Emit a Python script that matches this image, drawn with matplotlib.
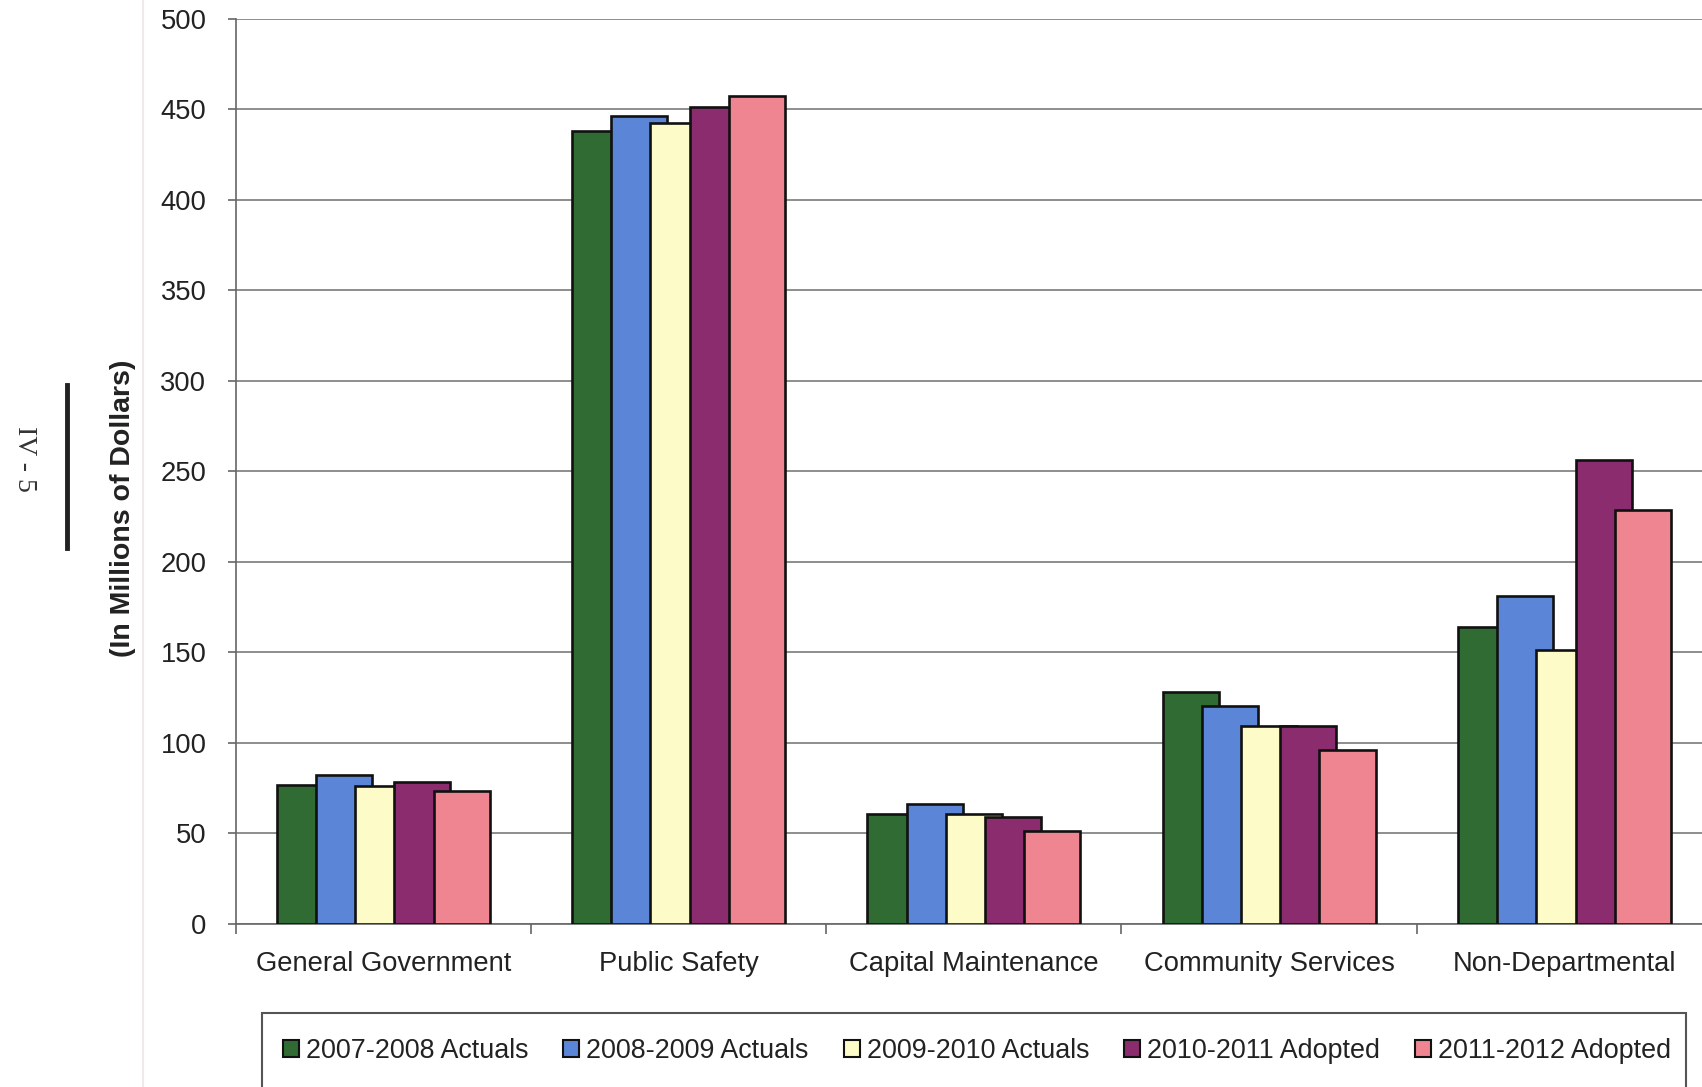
import numpy as np
import matplotlib
matplotlib.use("Agg")
import matplotlib.pyplot as plt
from matplotlib.patches import Patch, Rectangle

plt.rcParams['font.family'] = ['Liberation Sans', 'DejaVu Sans']

categories = ['General Government', 'Public Safety', 'Capital Maintenance',
              'Community Services', 'Non-Departmental']
series = ['2007-2008 Actuals', '2008-2009 Actuals', '2009-2010 Actuals',
          '2010-2011 Adopted', '2011-2012 Adopted']
fy0708 = [76.5, 438, 60.5, 128, 164]
fy0809 = [82, 446, 66, 120.5, 181]
fy0910 = [76, 442.5, 60.5, 109.5, 151]
fy1011 = [78.5, 451, 59, 109.5, 256]
fy1112 = [73.5, 457, 51, 96, 228.5]
yticks = [0, 50, 100, 150, 200, 250, 300, 350, 400, 450, 500]

values = [fy0708, fy0809, fy0910, fy1011, fy1112]
colors = ['#2f6b32', '#5b86d8', '#fdfcc8', '#8a2c6e', '#f08592']

fig = plt.figure(figsize=(17.02, 10.87), dpi=100)
ax = fig.add_axes([0.1384, 0.1502, 0.8675, 0.8327])

x = np.arange(len(categories))
step = 0.1328
width = 0.19
for i, (vals, col) in enumerate(zip(values, colors)):
    ax.bar(x + (i - 2) * step, vals, width, color=col, edgecolor='#111111',
           linewidth=1.9, zorder=3 + i)

ax.set_xlim(-0.5, 4.5)
ax.set_ylim(0, 500)
ax.set_yticks(yticks)
ax.yaxis.grid(True, color='#7a7a7a', linewidth=1.2, zorder=0)
ax.set_axisbelow(True)

ax.set_xticks(np.arange(-0.5, 4.6, 1.0))
ax.set_xticklabels([])
ax.set_xticks(x, minor=True)
ax.set_xticklabels(categories, minor=True, fontsize=19.7, color='#222222')
ax.tick_params(axis='x', which='major', length=7, width=1.2, color='#666666', direction='out')
ax.tick_params(axis='x', which='minor', length=0, pad=19.5)
ax.tick_params(axis='y', length=6, width=1.2, color='#666666', pad=15,
               labelsize=19.7, labelcolor='#222222')

for s in ['top', 'right']:
    ax.spines[s].set_visible(False)
for s in ['left', 'bottom']:
    ax.spines[s].set_color('#666666')
    ax.spines[s].set_linewidth(1.2)

fig.text(0.072, 0.532, '(In Millions of Dollars)', rotation=90, fontsize=20.5,
         fontweight='bold', color='#222222', ha='center', va='center')

# page number and footer rule from the scanned page
fig.text(0.0145, 0.578, 'IV - 5', rotation=-90, fontsize=20,
         family=['Liberation Serif', 'DejaVu Serif'], color='#333333',
         ha='center', va='center')
fig.add_artist(plt.Line2D([0.0394, 0.0394], [0.496, 0.646], color='#222222',
                          linewidth=3.5, transform=fig.transFigure))
fig.add_artist(plt.Line2D([0.084, 0.084], [0, 1], color='#f1e9e9',
                          linewidth=1.5, transform=fig.transFigure))

handles = [Patch(facecolor=c, edgecolor='#111111', linewidth=1.5) for c in colors]
fig.legend(handles, series, loc='center', bbox_to_anchor=(0.574, 0.033), ncol=5,
           frameon=False, fontsize=19.4, handlelength=0.6, handleheight=0.6,
           handletextpad=0.25, columnspacing=1.3, labelcolor='#222222')
fig.add_artist(Rectangle((0.1537, -0.05), 0.8369, 0.1183, fill=False,
                         edgecolor='#555555', linewidth=1.5, transform=fig.transFigure))

fig.savefig('out.png', dpi=100)
